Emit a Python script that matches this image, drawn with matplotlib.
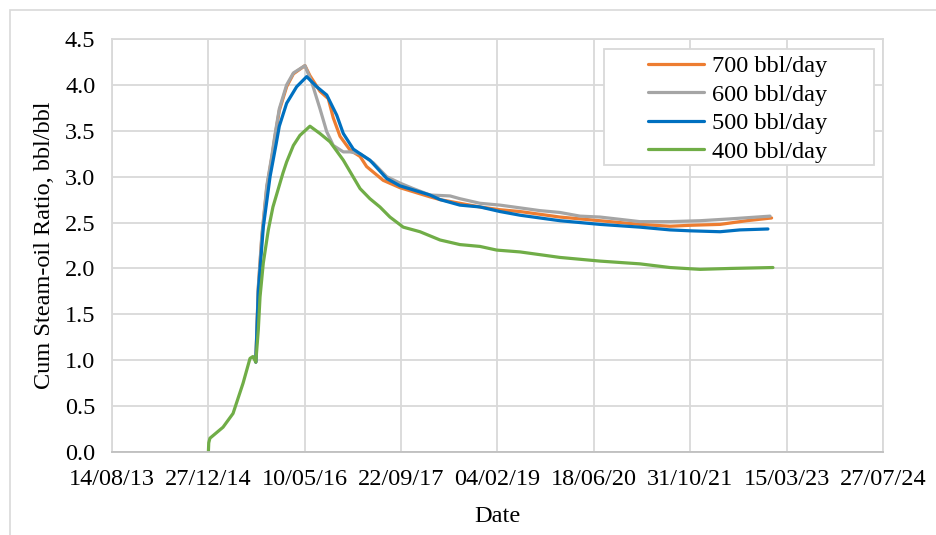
import matplotlib
matplotlib.use("Agg")
import matplotlib.pyplot as plt
import matplotlib.dates as mdates
from matplotlib.patches import Rectangle
from matplotlib.ticker import FormatStrFormatter, FixedLocator
import pandas as pd

plt.rcParams['font.family'] = ['Liberation Serif', 'DejaVu Serif']

# Cumulative steam-oil ratio by steam injection rate
dates_400 = ["2014-12-27", "2014-12-29", "2015-01-04", "2015-03-13", "2015-05-04",
             "2015-06-25", "2015-07-31", "2015-08-15", "2015-08-30", "2015-09-12",
             "2015-09-21", "2015-10-08", "2015-11-03", "2015-11-27", "2016-01-18",
             "2016-02-06", "2016-03-12", "2016-04-15", "2016-06-06", "2016-07-28",
             "2016-09-18", "2016-11-26", "2017-02-21", "2017-04-13", "2017-06-04",
             "2017-07-26", "2017-10-03", "2017-12-29", "2018-04-12", "2018-07-24",
             "2018-11-05", "2019-01-31", "2019-06-01", "2019-12-25", "2020-07-20",
             "2021-02-12", "2021-07-18", "2021-12-21", "2022-05-26", "2023-01-03"]
sor_400 = [0.00, 0.10, 0.15, 0.27, 0.42,
           0.75, 1.02, 1.04, 0.98, 1.33,
           1.69, 2.06, 2.42, 2.67, 3.04,
           3.16, 3.34, 3.45, 3.55, 3.47,
           3.38, 3.18, 2.87, 2.76, 2.67,
           2.56, 2.45, 2.40, 2.31, 2.26,
           2.24, 2.20, 2.18, 2.12, 2.08,
           2.05, 2.01, 1.99, 2.00, 2.01]

dates_500 = ["2015-08-30", "2015-09-12", "2015-10-08", "2015-11-12", "2015-12-13",
             "2015-12-30", "2016-02-06", "2016-03-29", "2016-05-20",
             "2016-07-11", "2016-09-01", "2016-10-23", "2016-11-26", "2017-01-17",
             "2017-02-21", "2017-04-13", "2017-05-18", "2017-07-09", "2017-09-16",
             "2018-02-19", "2018-04-12", "2018-07-24", "2018-11-05", "2019-02-17",
             "2019-06-01", "2019-09-12", "2019-12-25", "2020-07-20", "2021-02-12",
             "2021-07-18", "2021-10-30", "2022-04-04", "2022-07-16", "2022-12-08"]
sor_500 = [0.98, 1.75, 2.45, 3.00, 3.35,
           3.55, 3.80, 3.98, 4.09,
           3.98, 3.89, 3.67, 3.47, 3.30,
           3.25, 3.18, 3.10, 2.98, 2.90,
           2.80, 2.75, 2.69, 2.67, 2.62,
           2.58, 2.55, 2.52, 2.48, 2.45,
           2.42, 2.41, 2.40, 2.42, 2.43]

dates_600 = ["2015-08-30", "2015-09-12", "2015-09-30", "2015-10-26", "2015-11-23",
             "2015-12-07", "2015-12-30", "2016-02-06", "2016-03-12", "2016-05-11",
             "2016-06-15", "2016-07-28", "2016-09-01", "2016-10-05", "2016-11-26",
             "2016-12-31", "2017-02-21", "2017-05-01", "2017-07-09", "2017-09-16",
             "2017-11-24", "2018-02-19", "2018-06-03", "2018-07-24", "2018-11-05",
             "2019-02-17", "2019-06-01", "2019-09-12", "2019-12-25", "2020-04-07",
             "2020-07-20", "2021-02-12", "2021-07-18", "2021-12-21", "2022-05-26",
             "2022-12-19"]
sor_600 = [0.98, 1.80, 2.35, 2.90, 3.25,
           3.45, 3.74, 4.00, 4.13, 4.21,
           4.03, 3.74, 3.49, 3.34, 3.27,
           3.27, 3.25, 3.15, 3.00, 2.93,
           2.87, 2.80, 2.79, 2.76, 2.71,
           2.69, 2.66, 2.63, 2.61, 2.57,
           2.56, 2.51, 2.51, 2.52, 2.54,
           2.57]

dates_700 = ["2015-08-30", "2015-09-12", "2015-09-30", "2015-10-26", "2015-11-23",
             "2015-12-07", "2015-12-30", "2016-02-06", "2016-03-12", "2016-05-11",
             "2016-06-06", "2016-07-28", "2016-09-09", "2016-10-05", "2016-11-09",
             "2016-12-31", "2017-02-21", "2017-03-27", "2017-06-21", "2017-09-16",
             "2018-02-19", "2018-04-12", "2018-07-24", "2018-11-05", "2019-02-17",
             "2019-06-01", "2019-12-25", "2020-07-20", "2021-02-12", "2021-07-18",
             "2021-10-30", "2022-04-04", "2022-08-20", "2022-12-27"]
sor_700 = [0.98, 1.78, 2.33, 2.88, 3.23,
           3.43, 3.72, 3.98, 4.12, 4.21,
           4.10, 3.93, 3.85, 3.64, 3.44,
           3.29, 3.22, 3.11, 2.96, 2.88,
           2.78, 2.75, 2.71, 2.67, 2.64,
           2.62, 2.56, 2.52, 2.48, 2.46,
           2.47, 2.48, 2.52, 2.55]

series_labels = ["700 bbl/day", "600 bbl/day", "500 bbl/day", "400 bbl/day"]
series_colors = ["#ED7D31", "#A5A5A5", "#0070C0", "#70AD47"]

x_ticks = ["2013-08-14", "2014-12-27", "2016-05-10", "2017-09-22", "2019-02-04",
           "2020-06-18", "2021-10-31", "2023-03-15", "2024-07-27"]
y_ticks = [0.0, 0.5, 1.0, 1.5, 2.0, 2.5, 3.0, 3.5, 4.0, 4.5]

FS = 17.5
GRID = "#D9D9D9"

fig = plt.figure(figsize=(9.36, 5.35), dpi=100)
fig.patch.set_facecolor("white")

# outer chart frame (left and top edges visible)
fig.add_artist(Rectangle((9.5 / 936, -0.1), 1.2, 1.1 - 9.5 / 535,
                         transform=fig.transFigure, fill=False,
                         edgecolor=GRID, linewidth=1.2))

ax = fig.add_axes([112 / 936, 1 - 452 / 535, (883 - 112) / 936, (452 - 39) / 535])

all_series = [(dates_700, sor_700), (dates_600, sor_600),
              (dates_500, sor_500), (dates_400, sor_400)]
for (d, v), lab, col in zip(all_series, series_labels, series_colors):
    ax.plot(pd.to_datetime(d), v, color=col, linewidth=2.3, label=lab,
            solid_joinstyle="round", solid_capstyle="round")

xt = pd.to_datetime(x_ticks)
ax.set_xlim(xt[0], xt[-1])
ax.set_ylim(0, 4.5)
ax.xaxis.set_major_locator(FixedLocator(mdates.date2num(xt)))
ax.xaxis.set_major_formatter(mdates.DateFormatter("%d/%m/%y"))
ax.set_yticks(y_ticks)
ax.yaxis.set_major_formatter(FormatStrFormatter("%.1f"))

ax.grid(True, color=GRID, linewidth=1.3)
ax.set_axisbelow(True)
for side in ["left", "right", "top"]:
    ax.spines[side].set_color(GRID)
    ax.spines[side].set_linewidth(1.3)
ax.spines["bottom"].set_color("#BFBFBF")
ax.spines["bottom"].set_linewidth(1.3)

ax.tick_params(axis="both", length=0, labelsize=FS, colors="black")
ax.tick_params(axis="x", pad=12)
ax.tick_params(axis="y", pad=12)

ax.set_xlabel("Date", fontsize=FS, labelpad=12)
ax.set_ylabel("Cum Steam-oil Ratio, bbl/bbl", fontsize=FS, labelpad=7)

# legend box
ax.add_patch(Rectangle((0.638, 0.695), 0.350, 0.281, transform=ax.transAxes,
                       facecolor="white", edgecolor=GRID, linewidth=1.3, zorder=5))
leg = ax.legend(loc="upper left", bbox_to_anchor=(0.695, 0.961), fontsize=FS,
                frameon=False, handlelength=2.3, handletextpad=0.35,
                borderpad=0.0, labelspacing=0.27, borderaxespad=0.0)
leg.set_zorder(6)

fig.savefig("out.png", dpi=100, facecolor="white")
